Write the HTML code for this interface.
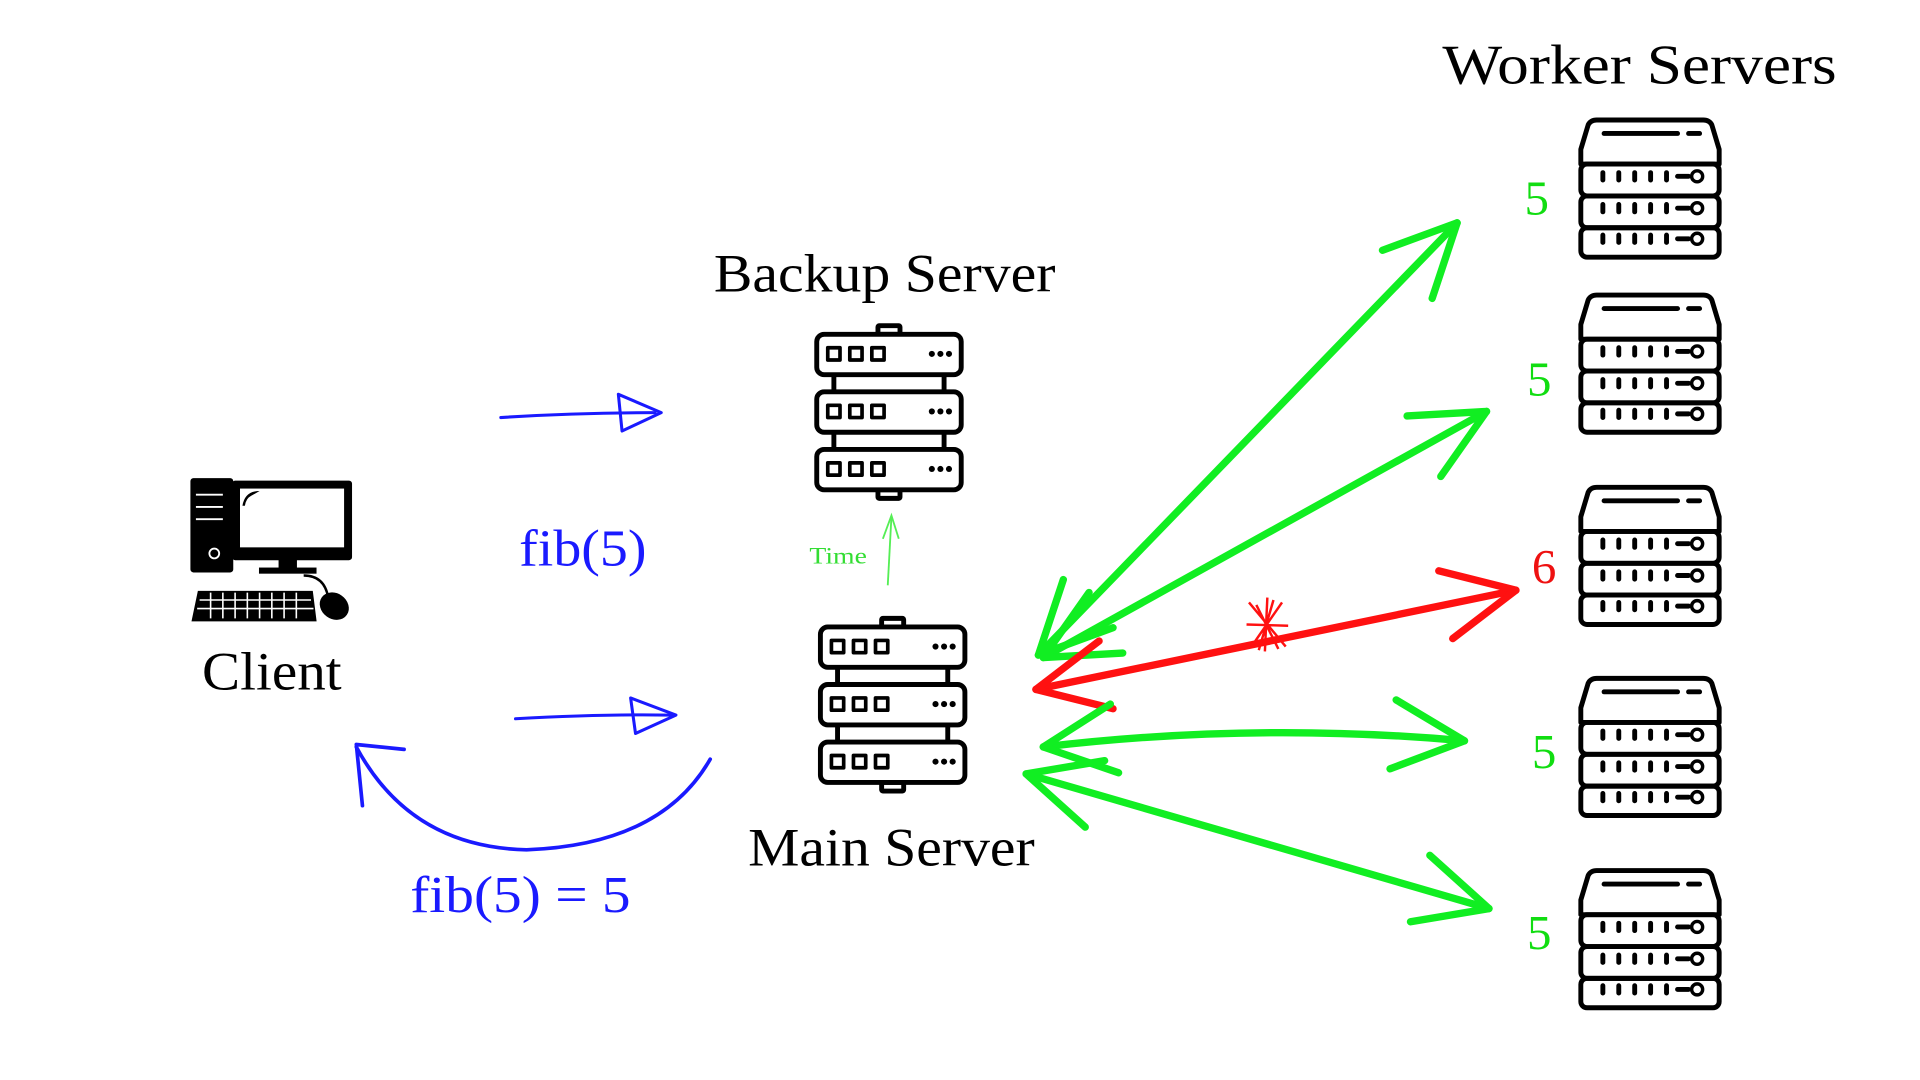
<!DOCTYPE html>
<html><head><meta charset="utf-8"><style>
html,body{margin:0;padding:0;background:#fff;width:1920px;height:1080px;overflow:hidden}
svg{display:block}
text{font-family:"Liberation Serif",serif}
</style></head><body>
<svg id="s" width="1920" height="1080" viewBox="0 0 1568 882" xmlns="http://www.w3.org/2000/svg">
<defs>
<g id="ws" fill="none" stroke="#000" stroke-width="4" stroke-linejoin="round">
 <path d="M14,2 H101 Q106,2 108,6 L114,26 V38 H1 V26 L7,6 Q9,2 14,2 Z" fill="#fff"/>
 <line x1="20" y1="13" x2="80" y2="13" stroke-linecap="round"/>
 <line x1="89" y1="13" x2="98" y2="13" stroke-linecap="round"/>
 <rect x="1" y="38" width="113" height="26" rx="5"/>
 <rect x="1" y="64" width="113" height="26" rx="5"/>
 <rect x="1" y="90" width="113" height="24" rx="5"/>
 <g stroke-linecap="round">
  <path d="M19,45v6M32,45v6M45,45v6M58,45v6M71,45v6M80,48h9"/>
  <path d="M19,71v6M32,71v6M45,71v6M58,71v6M71,71v6M80,74h9"/>
  <path d="M19,96v6M32,96v6M45,96v6M58,96v6M71,96v6M80,99h9"/>
 </g>
 <g stroke-width="2.8"><circle cx="96" cy="48" r="4.5"/><circle cx="96" cy="74" r="4.5"/><circle cx="96" cy="99" r="4.5"/></g>
</g>
<g id="bs" fill="none" stroke="#000" stroke-width="4" stroke-linejoin="round">
 <rect x="52" y="1" width="18" height="7" rx="1"/>
 <rect x="52" y="135" width="18" height="7" rx="1"/>
 <path d="M16,41V55M106,41V55M16,88V102M106,88V102"/>
 <rect x="2" y="8" width="118" height="33" rx="6" fill="#fff"/>
 <rect x="2" y="55" width="118" height="33" rx="6" fill="#fff"/>
 <rect x="2" y="102" width="118" height="33" rx="6" fill="#fff"/>
 <g stroke-width="3"><rect x="11" y="19" width="10" height="10"/><rect x="29" y="19" width="10" height="10"/><rect x="47" y="19" width="10" height="10"/>
 <rect x="11" y="66" width="10" height="10"/><rect x="29" y="66" width="10" height="10"/><rect x="47" y="66" width="10" height="10"/>
 <rect x="11" y="113" width="10" height="10"/><rect x="29" y="113" width="10" height="10"/><rect x="47" y="113" width="10" height="10"/></g>
 <g fill="#000" stroke="none"><circle cx="96" cy="24" r="2.5"/><circle cx="103" cy="24" r="2.5"/><circle cx="110" cy="24" r="2.5"/>
 <circle cx="96" cy="71" r="2.5"/><circle cx="103" cy="71" r="2.5"/><circle cx="110" cy="71" r="2.5"/>
 <circle cx="96" cy="118" r="2.5"/><circle cx="103" cy="118" r="2.5"/><circle cx="110" cy="118" r="2.5"/></g>
</g>
</defs>

<text x="1178" y="68" font-size="46" textLength="322" lengthAdjust="spacingAndGlyphs">Worker Servers</text>
<text x="583" y="238" font-size="44" textLength="279" lengthAdjust="spacingAndGlyphs">Backup Server</text>
<text x="611" y="707" font-size="44" textLength="234" lengthAdjust="spacingAndGlyphs">Main Server</text>
<text x="165" y="563" font-size="44" textLength="114" lengthAdjust="spacingAndGlyphs">Client</text>
<text x="424" y="462" font-size="42" fill="#1a1aff" textLength="104" lengthAdjust="spacingAndGlyphs">fib(5)</text>
<text x="335" y="745" font-size="42" fill="#1a1aff" textLength="180" lengthAdjust="spacingAndGlyphs">fib(5) = 5</text>
<text x="661" y="460" font-size="19" fill="#33dd33" textLength="47" lengthAdjust="spacingAndGlyphs">Time</text>

<use href="#ws" x="1290" y="96"/>
<use href="#ws" x="1290" y="239"/>
<use href="#ws" x="1290" y="396"/>
<use href="#ws" x="1290" y="552"/>
<use href="#ws" x="1290" y="709"/>
<use href="#bs" x="665" y="265"/>
<use href="#bs" x="668" y="504"/>

<g font-size="40">
<text x="1245" y="175" fill="#11dd11">5</text>
<text x="1247" y="323" fill="#11dd11">5</text>
<text x="1251" y="476" fill="#ee1111">6</text>
<text x="1251" y="627" fill="#11dd11">5</text>
<text x="1247" y="775" fill="#11dd11">5</text>
</g>

<!-- client computer -->
<g stroke="#000" fill="#000">
 <rect x="156" y="391" width="34" height="76" rx="2"/>
 <g stroke="#fff" stroke-width="1.5"><line x1="160" y1="404" x2="182" y2="404"/><line x1="160" y1="414" x2="182" y2="414"/><line x1="160" y1="424" x2="182" y2="424"/></g>
 <circle cx="175" cy="452" r="4" fill="none" stroke="#fff" stroke-width="1.5"/>
 <rect x="190" y="393" width="97" height="64" rx="2"/>
 <rect x="196" y="399" width="85" height="48" fill="#fff" stroke="none"/>
 <path d="M198,413 Q200,401 212,401 L205,405 Q201,407 200,413Z" stroke="none"/>
 <rect x="228" y="457" width="14" height="8"/>
 <rect x="212" y="464" width="46" height="4"/>
 <path d="M162,483 H255 L258,507 H157 Z"/>
 <g stroke="#fff" stroke-width="1.3"><line x1="163" y1="490" x2="254" y2="490"/><line x1="161" y1="497" x2="256" y2="497"/>
 <path d="M172,484v21M182,484v21M192,484v21M202,484v21M212,484v21M222,484v21M232,484v21M242,484v21"/></g>
 <path d="M248,470 Q265,470 268,488" fill="none" stroke-width="2"/>
 <ellipse cx="273" cy="495" rx="12" ry="10" transform="rotate(35 273 495)"/>
</g>

<g id="arrows" fill="none" stroke-linecap="round" stroke-linejoin="round"></g>
<g stroke="#55ee55" stroke-width="1.5" fill="none">
 <path d="M725,478 L728,422"/><path d="M721,440 L728,421 L734,440"/>
</g>
<g stroke="#ff1111" stroke-width="2" fill="none">
 <path d="M1020,492 L1050,528 M1035,488 L1033,532 M1018,510 L1052,511 M1047,492 L1022,528 M1026,494 L1044,530 M1040,490 L1028,531"/>
</g>
</svg>
<script>
var g=document.getElementById('arrows'),NS='http://www.w3.org/2000/svg';
function p(d,c,w){var e=document.createElementNS(NS,'path');e.setAttribute('d',d);e.setAttribute('stroke',c);e.setAttribute('stroke-width',w);g.appendChild(e);}
function head(x,y,fx,fy,L,a){var ang=Math.atan2(fy-y,fx-x);var s='';[a,-a].forEach(function(t){s+='M'+(x+L*Math.cos(ang+t)).toFixed(1)+','+(y+L*Math.sin(ang+t)).toFixed(1)+' L'+x+','+y+' ';});return s;}
function dbl(x1,y1,x2,y2,c,bend){var mx=(x1+x2)/2,my=(y1+y2)/2+bend;
 p('M'+x1+','+y1+' Q'+mx+','+my+' '+x2+','+y2,c,6);
 p(head(x1,y1,mx,my,65,0.45),c,6);p(head(x2,y2,mx,my,65,0.45),c,6);}
var G='#11ee22';
dbl(848,535,1190,182,G,0);
dbl(852,537,1214,336,G,0);
dbl(846,563,1238,482,'#ff1111',0);
dbl(852,610,1196,605,G,-18);
dbl(838,632,1216,742,G,0);
var B='#1a1aff';
p('M409,341 Q470,337 535,337',B,2.5);p('M505,322 L540,337 L508,352 Z',B,2.5);
p('M421,587 Q490,583 548,584',B,2.5);p('M515,570 L552,584 L519,599 Z',B,2.5);
p('M580,620 Q540,690 430,694 Q335,692 291,610',B,3);
p('M330,612 L291,608 L296,658',B,3);
</script>
</body></html>
